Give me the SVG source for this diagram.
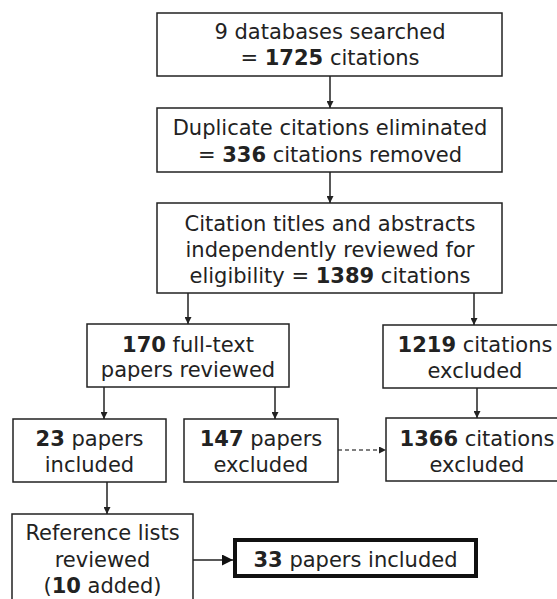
<svg xmlns="http://www.w3.org/2000/svg" width="557" height="599" viewBox="0 0 557 599">
<style>
.box{fill:#fff;stroke:#222;stroke-width:1.5}
.thick{fill:#fff;stroke:#111;stroke-width:4}
text{font-family:"DejaVu Sans","Liberation Sans",sans-serif;font-size:21px;fill:#222;text-anchor:middle}
.b{font-weight:bold}
.c{stroke:#222;stroke-width:1.5;fill:none}
.d{stroke:#555;stroke-width:1.5;fill:none;stroke-dasharray:4 3}
</style>
<defs>
<marker id="ah" viewBox="0 0 10 10" refX="10" refY="5" markerWidth="7" markerHeight="7" markerUnits="userSpaceOnUse" orient="auto"><path d="M0,0 L10,5 L0,10 z" fill="#222"/></marker>
<marker id="ahb" viewBox="0 0 10 10" refX="10" refY="5" markerWidth="11" markerHeight="11" markerUnits="userSpaceOnUse" orient="auto"><path d="M0,0 L10,5 L0,10 z" fill="#111"/></marker>
</defs>
<rect width="557" height="599" fill="#fff"/>
<g id="connectors">
<line class="c" x1="330" y1="76" x2="330" y2="108" marker-end="url(#ah)"/>
<line class="c" x1="330" y1="172" x2="330" y2="203" marker-end="url(#ah)"/>
<line class="c" x1="188" y1="293" x2="188" y2="324" marker-end="url(#ah)"/>
<line class="c" x1="474" y1="293" x2="474" y2="325" marker-end="url(#ah)"/>
<line class="c" x1="104" y1="387" x2="104" y2="419" marker-end="url(#ah)"/>
<line class="c" x1="275" y1="387" x2="275" y2="419" marker-end="url(#ah)"/>
<line class="c" x1="477" y1="388" x2="477" y2="418" marker-end="url(#ah)"/>
<line class="d" x1="338" y1="450" x2="386" y2="450" marker-end="url(#ah)"/>
<line class="c" x1="107" y1="482" x2="107" y2="514" marker-end="url(#ah)"/>
<line class="c" x1="193" y1="560" x2="233" y2="560" marker-end="url(#ahb)"/>
</g>
<g id="n1">
<rect class="box" x="157" y="13" width="345" height="63"/>
<text x="330" y="39">9 databases searched</text>
<text x="330" y="65">= <tspan class="b">1725</tspan> citations</text>
</g>
<g id="n2">
<rect class="box" x="157" y="108" width="345" height="64"/>
<text x="330" y="135">Duplicate citations eliminated</text>
<text x="330" y="162">= <tspan class="b">336</tspan> citations removed</text>
</g>
<g id="n3">
<rect class="box" x="157" y="203" width="345" height="90"/>
<text x="330" y="231">Citation titles and abstracts</text>
<text x="330" y="257">independently reviewed for</text>
<text x="330" y="283">eligibility = <tspan class="b">1389</tspan> citations</text>
</g>
<g id="n4">
<rect class="box" x="87" y="324" width="202" height="63"/>
<text x="188" y="352"><tspan class="b">170</tspan> full-text</text>
<text x="188" y="377">papers reviewed</text>
</g>
<g id="n5">
<rect class="box" x="383" y="325" width="185" height="63"/>
<text x="475" y="352"><tspan class="b">1219</tspan> citations</text>
<text x="475" y="378">excluded</text>
</g>
<g id="n6">
<rect class="box" x="13" y="419" width="153" height="63"/>
<text x="89.5" y="446"><tspan class="b">23</tspan> papers</text>
<text x="89.5" y="472">included</text>
</g>
<g id="n7">
<rect class="box" x="184" y="419" width="154" height="63"/>
<text x="261" y="446"><tspan class="b">147</tspan> papers</text>
<text x="261" y="472">excluded</text>
</g>
<g id="n8">
<rect class="box" x="386" y="418" width="182" height="63"/>
<text x="477" y="446"><tspan class="b">1366</tspan> citations</text>
<text x="477" y="472">excluded</text>
</g>
<g id="n9">
<rect class="box" x="12" y="514" width="181" height="90"/>
<text x="102.5" y="540">Reference lists</text>
<text x="102.5" y="567">reviewed</text>
<text x="102.5" y="593">(<tspan class="b">10</tspan> added)</text>
</g>
<g id="n10">
<rect class="thick" x="235" y="540" width="241" height="36"/>
<text x="355.5" y="567"><tspan class="b">33</tspan> papers included</text>
</g>
</svg>
